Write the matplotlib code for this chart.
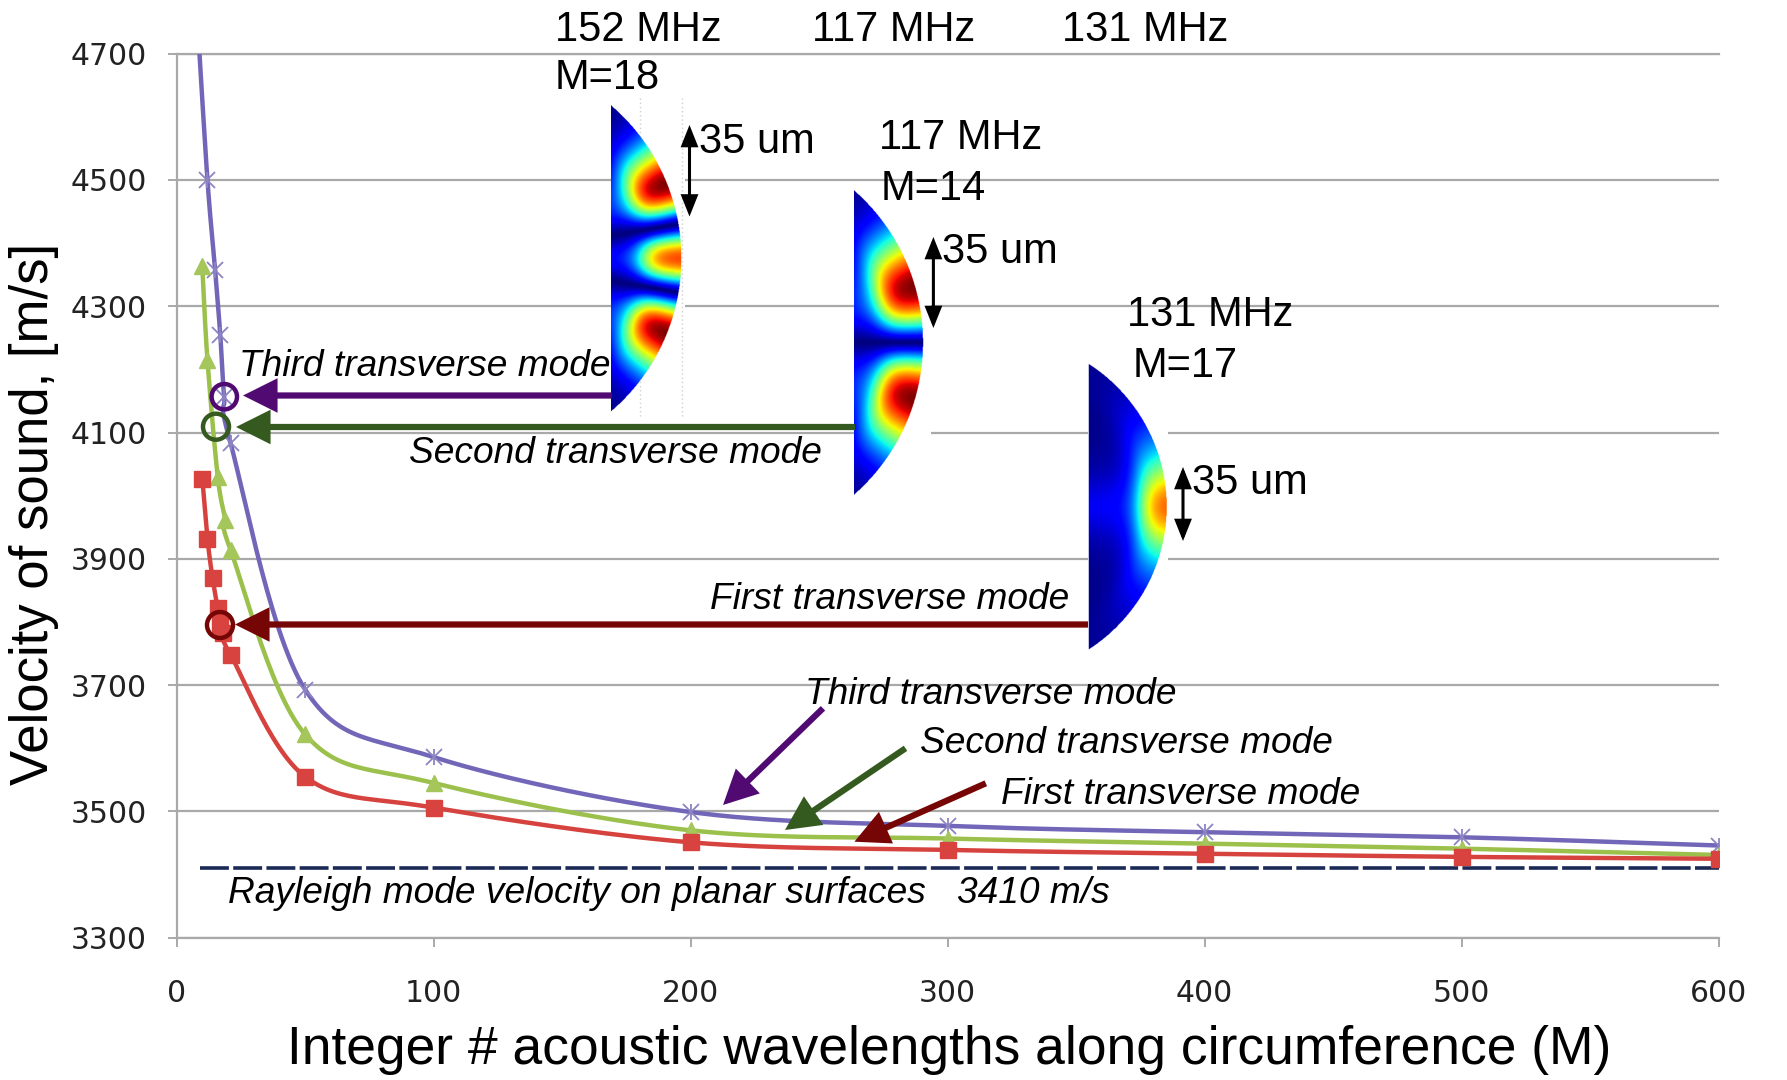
import numpy as np
import matplotlib
matplotlib.use("Agg")
import matplotlib.pyplot as plt
from matplotlib.patches import FancyArrowPatch, Ellipse, ArrowStyle

# ---------------- data ----------------
third_M = [8, 12, 15, 17, 18.5, 21, 50, 100, 200, 300, 400, 500, 600]
third_v = [4760, 4500, 4357, 4254, 4157, 4083, 3693, 3586, 3499, 3477, 3467, 3459, 3446]
second_M = [10, 12, 16, 19, 21, 50, 100, 200, 300, 400, 500, 600]
second_v = [4363, 4215, 4030, 3961, 3914, 3622, 3545, 3470, 3457, 3449, 3441, 3431]
first_M = [10, 12, 14, 16, 17, 18, 21, 50, 100, 200, 300, 400, 500, 600]
first_v = [4027, 3932, 3869, 3822, 3795, 3782, 3748, 3555, 3506, 3451, 3439, 3433, 3428, 3425]
rayleigh_M = [9, 600]
rayleigh_v = [3410, 3410]
x_ticks = [0, 100, 200, 300, 400, 500, 600]
y_ticks = [3300, 3500, 3700, 3900, 4100, 4300, 4500, 4700]

# ---------------- figure ----------------
W, H = 1787, 1080
fig = plt.figure(figsize=(W / 100, H / 100), dpi=100)
fig.patch.set_facecolor("white")


def F(x, y):
    return (x / W, 1 - y / H)


FONT = "Liberation Sans"

ax = fig.add_axes([176.6 / W, 1 - 937.7 / H, (1718.7 - 176.6) / W, (937.7 - 53.6) / H])
ax.set_xlim(0, 600)
ax.set_ylim(3300, 4700)
ax.set_xticks(x_ticks)
ax.set_yticks(y_ticks)
ax.set_xticklabels([str(t) for t in x_ticks])
ax.set_yticklabels([str(t) for t in y_ticks])
grid_c = "#a9a9a9"
ax.yaxis.grid(True, color=grid_c, lw=1.6, zorder=0)
ax.set_axisbelow(True)
for side in ["left", "bottom", "top"]:
    ax.spines[side].set_color(grid_c)
    ax.spines[side].set_linewidth(1.6)
ax.spines["right"].set_visible(False)
ax.tick_params(axis="both", colors=grid_c, length=6.5, width=1.4, labelcolor="#222222",
               labelsize=21.5)
ax.tick_params(axis="y", pad=15)
ax.tick_params(axis="x", pad=23)


def smooth(xs, ys, n=30):
    pts = ax.transData.transform(np.column_stack([xs, ys]))
    out = [pts[0]]
    N = len(pts)
    for i in range(N - 1):
        p0 = pts[i - 1] if i > 0 else pts[i]
        p1 = pts[i]
        p2 = pts[i + 1]
        p3 = pts[i + 2] if i + 2 < N else pts[i + 1]
        c1 = p1 + (p2 - p0) / 6.0
        c2 = p2 - (p3 - p1) / 6.0
        t = np.linspace(0, 1, n)[1:, None]
        seg = (1 - t) ** 3 * p1 + 3 * (1 - t) ** 2 * t * c1 + 3 * (1 - t) * t ** 2 * c2 + t ** 3 * p2
        out.extend(seg)
    out = np.array(out)
    res = ax.transData.inverted().transform(out)
    return res[:, 0], res[:, 1]


c_third = "#7266b8"
c_second = "#9cc04c"
c_first = "#d6433f"

ax.plot(rayleigh_M, rayleigh_v, color="#1b2a55", lw=2.6, dashes=(8, 1.2), zorder=2)

sx, sy = smooth(third_M, third_v)
ax.plot(sx, sy, color=c_third, lw=3.2, zorder=3, solid_capstyle="round")
sx, sy = smooth(second_M, second_v)
ax.plot(sx, sy, color=c_second, lw=3.2, zorder=4, solid_capstyle="round")
sx, sy = smooth(first_M, first_v)
ax.plot(sx, sy, color=c_first, lw=3.2, zorder=5, solid_capstyle="round")

ax.plot(third_M, third_v, ls="none", marker="x", ms=12, mew=1.3, color="#8d84c4", zorder=6)
ax.plot(third_M, third_v, ls="none", marker="|", ms=12, mew=1.3, color="#8d84c4", zorder=6)
ax.plot(second_M, second_v, ls="none", marker="^", ms=11.5, color="#a4c65a", mec="#a4c65a", zorder=7)
ax.plot(first_M, first_v, ls="none", marker="s", ms=11.5, color="#d8433f", mec="#d8433f", zorder=8)

# ---------------- mode-shape insets ----------------
def hermite_abs(y, n):
    if n == 1:
        return 1.0 / np.cosh(y)
    if n == 2:
        f = np.abs(y * np.exp(-y ** 2 / 2))
        return f / np.exp(-0.5)
    f = np.abs((4 * y ** 2 - 2) * np.exp(-y ** 2 / 2))
    return f / (8 * np.exp(-1.25))


def inset(box, xc, yt, yb, xr, n, u, d0, w, peak, power, dotted=()):
    bx0, by0, bx1, by1 = box
    iax = fig.add_axes([bx0 / W, 1 - by1 / H, (bx1 - bx0) / W, (by1 - by0) / H])
    iax.set_facecolor("white")
    for s in iax.spines.values():
        s.set_visible(False)
    iax.set_xticks([])
    iax.set_yticks([])
    for xd in dotted:
        iax.plot([xd, xd], [by0, by1], color="#d0d0d0", lw=1.0, ls=(0, (1, 2)), zorder=0)
    X, Y = np.meshgrid(np.arange(bx0, bx1, 0.5) + 0.25, np.arange(by0, by1, 0.5) + 0.25)
    h = (yb - yt) / 2.0
    s = xr - xc
    R = (h ** 2 + s ** 2) / (2 * s)
    cx = xr - R
    cy = (yt + yb) / 2.0
    r = np.hypot(X - cx, Y - cy)
    inside = (X >= xc) & (r <= R)
    d = R - r
    t = R * np.arctan2(Y - cy, X - cx)
    A = peak * hermite_abs(t / u, n) ** power
    g = 1.0 / (1.0 + np.exp((d - d0) / w))
    g0 = 1.0 / (1.0 + np.exp(-d0 / w))
    val = A * (0.87 * g / g0 + 0.13)
    val = np.where(inside, val, np.nan)
    cmap = plt.get_cmap("jet").copy()
    cmap.set_bad((1, 1, 1, 0))
    iax.imshow(val, cmap=cmap, vmin=0, vmax=1, extent=[bx0, bx1, by1, by0],
               interpolation="bilinear", aspect="auto", zorder=1)
    iax.set_xlim(bx0, bx1)
    iax.set_ylim(by1, by0)


inset((611, 98, 685, 418), 611, 105, 411.7, 681.7, 3, 48.7, 38, 8, 1.0, 1.35, dotted=(640, 682))
inset((854, 185, 931, 500), 854, 190, 495, 923.3, 2, 57, 38, 8, 1.0, 1.3)
inset((1088, 356, 1168, 656), 1088.3, 363.3, 650, 1166, 1, 37, 25, 7, 0.8, 1.0)

# ---------------- texts ----------------
def txt(x, yc, s, fs, style="normal", color="black"):
    cap = 0.716 * fs * 100 / 72.0
    fig.text(x / W, 1 - (yc + cap / 2) / H, s, fontsize=fs, family=FONT, style=style,
             color=color, ha="left", va="baseline")


txt(555, 26, "152 MHz", 30)
txt(555, 74, "M=18", 30)
txt(811.5, 26, "117 MHz", 30)
txt(1062, 26, "131 MHz", 30)
txt(878.7, 134.5, "117 MHz", 30)
txt(881, 184.6, "M=14", 30)
txt(1127, 311, "131 MHz", 30)
txt(1133, 362.4, "M=17", 30)
txt(698.6, 138, "35 um", 30)
txt(942.5, 248.5, "35 um", 30)
txt(1192, 478.7, "35 um", 30)

IT = 26.7
txt(239.3, 362.4, "Third transverse mode", IT, "italic")
txt(409, 450, "Second transverse mode", IT, "italic")
txt(710, 596, "First transverse mode", IT, "italic")
txt(804.6, 690.6, "Third transverse mode", IT, "italic")
txt(919.7, 739.7, "Second transverse mode", IT, "italic")
txt(1000.7, 791, "First transverse mode", IT, "italic")
txt(228, 890, "Rayleigh mode velocity on planar surfaces   3410 m/s", IT, "italic")

fig.text(34 / W, 1 - 514 / H, "Velocity of sound, [m/s]", fontsize=38, family=FONT,
         rotation=90, ha="center", va="center")
fig.text(949 / W, 1 - 1050 / H, "Integer # acoustic wavelengths along circumference (M)",
         fontsize=38.4, family=FONT, ha="center", va="center")

# ---------------- arrows & circles ----------------
c_pur = "#510a72"
c_grn = "#355a1f"
c_red = "#760505"
head = ArrowStyle("-|>", head_length=0.8, head_width=0.4)


def arrow(p0, p1, color, lw=4.5, style=head, ms=22):
    a = FancyArrowPatch(F(*p0), F(*p1), transform=fig.transFigure, arrowstyle=style,
                        mutation_scale=ms, color=color, lw=lw, shrinkA=0, shrinkB=0,
                        joinstyle="miter", capstyle="butt")
    fig.add_artist(a)


def circle(x, y, r, color):
    e = Ellipse(F(x, y), 2 * r / W, 2 * r / H, transform=fig.transFigure, fill=False,
                edgecolor=color, lw=3.2)
    fig.add_artist(e)


arrow((612, 395.5), (243, 395.5), c_pur)
arrow((855, 427), (236, 427), c_grn)
arrow((1088, 624.5), (235, 624.5), c_red)
circle(224.3, 396.7, 12.7, c_pur)
circle(216, 426.7, 13, c_grn)
circle(220, 625, 13, c_red)

arrow((823, 708.3), (723, 805), c_pur)
arrow((905.5, 748.3), (785, 830), c_grn)
arrow((985.8, 783.3), (854.4, 841.7), c_red)

dbl = ArrowStyle("<|-|>", head_length=0.8, head_width=0.32)
arrow((689.5, 125), (689.5, 216.5), "black", lw=2.2, style=dbl, ms=15)
arrow((933.4, 237), (933.4, 328), "black", lw=2.2, style=dbl, ms=15)
arrow((1183, 467), (1183, 541), "black", lw=2.2, style=dbl, ms=15)

fig.savefig("out.png", dpi=100, facecolor="white")
